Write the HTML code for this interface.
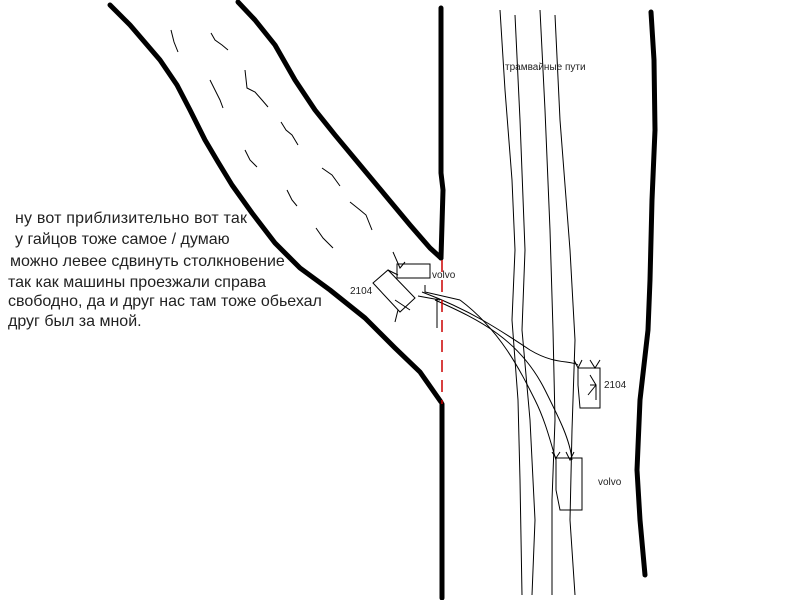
<!DOCTYPE html>
<html><head><meta charset="utf-8"><style>
html,body{margin:0;padding:0;background:#fff;width:800px;height:600px;overflow:hidden}
svg{display:block}
text{font-family:"Liberation Sans",sans-serif;fill:#222}
</style></head><body>
<svg width="800" height="600" viewBox="0 0 800 600">
<g fill="none" stroke="#000" stroke-width="5" stroke-linecap="round" stroke-linejoin="round">
<path d="M110,5 L130,25 L160,60 L177,85 L190,110 L205,140 L218,162 L232,185 L252,213 L275,243 L300,268 L330,290 L365,318 L395,348 L420,372 L441,402"/>
<path d="M238,2 L255,20 L275,45 L295,80 L315,110 L335,135 L360,165 L385,195 L410,225 L430,248 L441,258"/>
<path d="M441,8 L441,173 L443,190 L441,258"/>
<path d="M442,404 L442,598"/>
<path d="M651,12 L654,60 L655,130 L652,200 L650,280 L648,330 L640,400 L637,470 L640,520 L645,575"/>
</g>
<g fill="none" stroke="#000" stroke-width="1">
<path d="M171,30 L174,42 L178,52 M211,33 L215,40 L222,45 L228,50 M210,80 L215,90 L220,100 L223,108 M245,70 L247,88 L255,92 L262,100 L268,107 M281,122 L286,130 L292,135 L298,145 M245,150 L250,160 L257,167 M322,168 L332,175 L340,186 M287,190 L292,200 L297,206 M350,202 L360,210 L366,215 L372,230 M316,228 L323,238 L333,248"/>
<path d="M500,10 L505,90 L512,180 L515,250 L512,320 L518,400 L520,480 L522,595"/>
<path d="M515,15 L520,120 L525,250 L522,330 L530,420 L535,520 L532,595"/>
<path d="M540,10 L545,110 L550,230 L553,330 L555,420 L552,500 L552,595"/>
<path d="M555,15 L560,120 L570,250 L575,340 L572,430 L570,520 L575,595"/>
<path d="M422,292 C470,310 500,330 530,350 C555,365 570,360 578,365"/>
<path d="M435,300 C480,320 520,340 545,390 C560,420 570,440 572,460"/>
<path d="M460,300 C500,330 520,370 535,400 C545,420 550,440 556,460"/>
<rect x="397" y="264" width="33" height="14"/>
<path d="M373,283 L388,270 L415,298 L400,312 Z"/>
<path d="M425,285 L425,292 L460,300 M418,296 L440,300"/>
<path d="M437,298 L437,328"/>
<path d="M578,368 L600,368 L600,408 L580,408 L578,385 Z"/>
<path d="M556,458 L582,458 L582,510 L560,510 L556,490 Z"/>
<path d="M590,375 L596,385 L588,395 M590,385 L596,385 L596,400"/>
<path d="M574,360 L578,368 L582,360 M590,360 L595,368 L600,360"/>
<path d="M552,452 L556,458 L560,452 M566,452 L570,460 L574,452"/>
<path d="M393,252 L400,268 L405,262 M388,270 L398,275 M395,300 L410,310 M398,310 L395,322"/>
</g>
<path d="M442,260 L442,404" stroke="#c00" stroke-width="1.5" stroke-dasharray="12,8"/>
<g font-size="16">
<text x="15" y="223" textLength="232">ну вот приблизительно вот так</text>
<text x="15" y="244">у гайцов тоже самое / думаю</text>
<text x="10" y="266">можно левее сдвинуть столкновение</text>
<text x="8" y="287">так как машины проезжали справа</text>
<text x="8" y="306">свободно, да и друг нас там тоже обьехал</text>
<text x="8" y="326">друг был за мной.</text>
</g>
<g font-size="10">
<text x="505" y="70">трамвайные пути</text>
<text x="432" y="278">volvo</text>
<text x="350" y="294">2104</text>
<text x="604" y="388">2104</text>
<text x="598" y="485">volvo</text>
</g>
</svg>
</body></html>
